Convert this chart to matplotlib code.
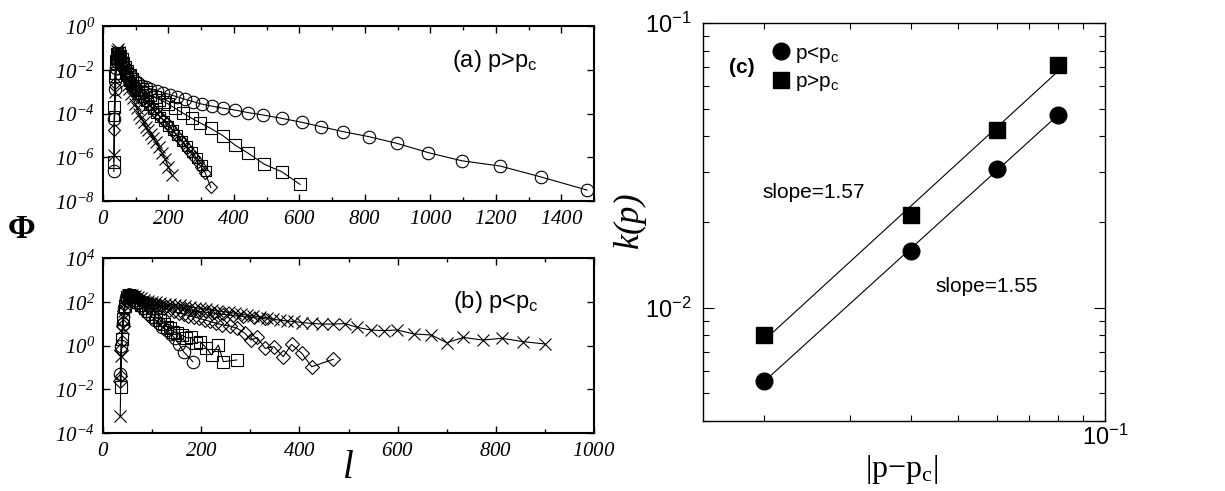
import numpy as np
import matplotlib
matplotlib.use("Agg")
import matplotlib.pyplot as plt
from matplotlib import ticker
from matplotlib.lines import Line2D

plt.rcParams['font.family'] = ['Liberation Sans', 'DejaVu Sans']
plt.rcParams['mathtext.fontset'] = 'custom'
plt.rcParams['mathtext.rm'] = 'Liberation Serif:italic'
plt.rcParams['mathtext.it'] = 'Liberation Serif:italic'
plt.rcParams['mathtext.cal'] = 'Liberation Serif'
plt.rcParams['mathtext.sf'] = 'Liberation Sans'
plt.rcParams['mathtext.bf'] = 'Liberation Sans:bold'

# ---- panel (a): p > pc, log10(Phi) vs l ----
a_circ_l = [33, 35, 38, 41, 44, 48, 52, 57, 62, 68, 74, 81, 89, 98, 108, 119, 131, 144,
            164, 184, 205, 225, 251, 276, 302, 332, 368, 403, 444, 490, 546, 607, 666,
            734, 813, 897, 994, 1096, 1213, 1338, 1479]
a_circ_v = [-6.65, -4.25, -2.9, -1.9, -1.45, -1.35, -1.45, -1.6, -1.75, -1.9, -2.05, -2.2,
            -2.35, -2.5, -2.62, -2.72, -2.8, -2.87, -2.96, -3.05, -3.14, -3.23, -3.35,
            -3.46, -3.57, -3.66, -3.76, -3.84, -3.96, -4.07, -4.22, -4.40, -4.60, -4.83,
            -5.06, -5.36, -5.79, -6.16, -6.40, -6.90, -7.50]

a_sq_l = [33, 35, 38, 41, 44, 48, 52, 57, 62, 68, 74, 81, 89, 98, 108, 119, 131, 144, 158,
          172, 186, 200, 220, 245, 271, 296, 329, 366, 403, 444, 493, 546, 602]
a_sq_v = [-6.2, -3.7, -2.3, -1.6, -1.3, -1.25, -1.35, -1.5, -1.68, -1.87, -2.05, -2.23,
          -2.42, -2.6, -2.75, -2.9, -3.03, -3.15, -3.26, -3.36, -3.46, -3.57, -3.76, -3.99,
          -4.22, -4.42, -4.68, -5.01, -5.44, -5.82, -6.32, -6.66, -7.24]

a_sq2_l = [35, 37, 40, 43, 47, 51, 56, 61, 67, 73, 80, 87, 95, 103, 112, 121, 131, 141,
           152, 163, 175, 187, 200, 213, 227, 241, 256, 271, 287, 303, 315]
a_sq2_v = [-4.1, -2.2, -1.5, -1.25, -1.2, -1.35, -1.6, -1.85, -2.1, -2.3, -2.5, -2.65,
           -2.8, -2.95, -3.1, -3.25, -3.42, -3.6, -3.78, -3.96, -4.15, -4.34, -4.55, -4.76,
           -5.0, -5.24, -5.5, -5.77, -6.05, -6.35, -6.62]

a_dia_l = [34, 36, 39, 42, 45, 49, 53, 58, 63, 68, 74, 80, 86, 93, 100, 107, 115, 123, 131,
           139, 148, 157, 166, 175, 184, 194, 204, 214, 224, 234, 245, 256, 267, 278, 289,
           300, 312, 329]
a_dia_v = [-4.75, -2.6, -1.7, -1.35, -1.25, -1.35, -1.55, -1.8, -2.0, -2.2, -2.4, -2.55,
           -2.7, -2.85, -2.98, -3.1, -3.23, -3.36, -3.48, -3.6, -3.74, -3.88, -4.02, -4.16,
           -4.3, -4.45, -4.62, -4.8, -4.98, -5.17, -5.36, -5.57, -5.78, -6.0, -6.22, -6.45,
           -6.7, -7.38]

a_x_l = [34, 36, 39, 42, 45, 48, 52, 56, 60, 65, 70, 75, 80, 86, 92, 98, 104, 110, 117, 124,
         131, 138, 146, 154, 162, 171, 180, 190, 200, 210]
a_x_v = [-5.9, -3.0, -1.7, -1.15, -1.05, -1.2, -1.45, -1.7, -1.95, -2.2, -2.55, -2.7, -2.9,
         -3.1, -3.3, -3.55, -3.75, -4.0, -4.2, -4.4, -4.6, -4.75, -4.95, -5.1, -5.3, -5.55,
         -5.8, -6.1, -6.45, -6.8]

# ---- panel (b): p < pc ----
b_circ_l = [35, 37, 40, 43, 47, 51, 55, 60, 65, 70, 76, 82, 88, 94, 99, 106, 113, 121, 130,
            138, 147, 155, 164, 183]
b_circ_v = [-1.3, 0.0, 1.0, 1.7, 2.15, 2.3, 2.3, 2.2, 2.1, 1.95, 1.85, 1.7, 1.57, 1.45, 1.32,
            1.18, 1.01, 0.85, 0.71, 0.52, 0.33, 0.05, -0.28, -0.74]

b_sq_l = [36, 38, 41, 44, 48, 52, 56, 61, 66, 72, 78, 85, 92, 100, 108, 116, 124, 130, 137,
          143, 151, 160, 170, 180, 190, 198, 210, 221, 235, 245, 272]
b_sq_v = [-1.88, 0.3, 1.2, 1.8, 2.2, 2.3, 2.28, 2.2, 2.1, 2.0, 1.85, 1.72, 1.6, 1.45, 1.3,
          1.17, 1.0, 0.86, 0.8, 0.63, 0.55, 0.48, 0.35, 0.37, 0.1, 0.17, -0.1, -0.43, 0.02,
          -0.74, -0.66]

b_dia_l = [35, 37, 40, 43, 47, 51, 55, 60, 65, 71, 77, 84, 91, 99, 107, 116, 125, 134, 144,
           154, 164, 174, 185, 196, 207, 218, 230, 242, 259, 273, 289, 301, 314, 330, 348,
           367, 384, 405, 425, 469]
b_dia_v = [-1.6, -0.2, 0.9, 1.6, 2.1, 2.3, 2.32, 2.28, 2.22, 2.15, 2.08, 2.0, 1.95, 1.9,
           1.83, 1.76, 1.7, 1.63, 1.56, 1.5, 1.43, 1.37, 1.3, 1.24, 1.17, 1.1, 1.02, 0.95,
           0.89, 0.79, 0.56, 0.25, 0.37, -0.13, -0.05, -0.51, 0.05, -0.36, -0.97, -0.63]

b_dia2_l = [36, 38, 41, 45, 49, 53, 58, 63, 69, 75, 82, 90, 98, 107, 117, 128, 140, 152, 165,
            179, 194, 210, 227, 245, 264, 285, 307, 330]
b_dia2_v = [-1.4, 0.2, 1.1, 1.9, 2.25, 2.3, 2.27, 2.22, 2.15, 2.08, 2.02, 1.97, 1.92, 1.88,
            1.84, 1.8, 1.76, 1.72, 1.67, 1.62, 1.57, 1.52, 1.47, 1.42, 1.37, 1.32, 1.27, 1.22]

b_x_l = [35, 37, 40, 43, 47, 51, 55, 60, 65, 71, 77, 84, 91, 99, 107, 116, 126, 136, 146,
         157, 167, 177, 188, 198, 210, 221, 233, 245, 257, 269, 281, 293, 306, 320, 333, 347,
         360, 374, 389, 405, 425, 447, 469, 493, 518, 545, 573, 599, 633, 669, 700, 734,
         773, 812, 855, 900]
b_x_v = [-3.22, -0.5, 0.8, 1.6, 2.1, 2.3, 2.33, 2.3, 2.25, 2.2, 2.15, 2.1, 2.05, 2.0, 1.97,
         1.94, 1.9, 1.88, 1.86, 1.84, 1.8, 1.76, 1.72, 1.7, 1.66, 1.62, 1.58, 1.55, 1.51,
         1.47, 1.43, 1.39, 1.35, 1.32, 1.26, 1.2, 1.16, 1.12, 1.1, 1.05, 1.01, 0.98, 0.98,
         1.0, 0.83, 0.71, 0.68, 0.71, 0.53, 0.48, 0.13, 0.37, 0.25, 0.33, 0.18, 0.07]

# ---- panel (c): k(p) vs |p - pc| ----
dp = [0.02, 0.04, 0.06, 0.08]
k_below = [0.00554, 0.01584, 0.0306, 0.0475]
k_above = [0.0080, 0.0211, 0.0421, 0.0713]


def draw_series(ax, l, v, marker, ms):
    ax.plot(l, 10.0 ** np.array(v), color='black', lw=0.8, marker=marker, ms=ms,
            mfc='none', mec='black', mew=0.8)


def sci_it(val, pos):
    return r'$10^{%d}$' % int(round(np.log10(val)))


def sci_sf(val, pos):
    return r'$\mathsf{10^{%d}}$' % int(round(np.log10(val)))


def style_left(ax, xmax, ylo, yhi):
    ax.set_yscale('log')
    ax.set_xlim(0, xmax)
    ax.set_ylim(10.0 ** ylo, 10.0 ** yhi)
    ax.xaxis.set_major_locator(ticker.MultipleLocator(200))
    ax.xaxis.set_minor_locator(ticker.MultipleLocator(100))
    ax.yaxis.set_major_locator(ticker.FixedLocator(10.0 ** np.arange(ylo, yhi + 1, 2)))
    ax.yaxis.set_minor_locator(ticker.NullLocator())
    ax.yaxis.set_major_formatter(ticker.FuncFormatter(sci_it))
    ax.xaxis.set_major_formatter(ticker.FuncFormatter(lambda v, p: r'$%d$' % v))
    ax.tick_params(which='both', direction='in', top=True, right=True, width=1.0,
                   labelsize=15, pad=6)
    ax.tick_params(which='major', length=5)
    ax.tick_params(which='minor', length=3)
    for s in ax.spines.values():
        s.set_linewidth(1.5)


fig = plt.figure(figsize=(12.25, 4.91), dpi=100)

ax_a = fig.add_axes([0.0841, 0.5906, 0.4008, 0.3564])
draw_series(ax_a, a_circ_l, a_circ_v, 'o', 9)
draw_series(ax_a, a_sq_l, a_sq_v, 's', 8)
draw_series(ax_a, a_sq2_l, a_sq2_v, 's', 6.5)
draw_series(ax_a, a_dia_l, a_dia_v, 'D', 6.5)
draw_series(ax_a, a_x_l, a_x_v, 'x', 8)
style_left(ax_a, 1500, -8, 0)
ax_a.text(0.711, 0.80, r'(a) p>p$_\mathsf{c}$', transform=ax_a.transAxes,
          fontsize=17, va='center', ha='left')

ax_b = fig.add_axes([0.0841, 0.1181, 0.4008, 0.3564])
draw_series(ax_b, b_circ_l, b_circ_v, 'o', 9)
draw_series(ax_b, b_sq_l, b_sq_v, 's', 8)
draw_series(ax_b, b_dia2_l, b_dia2_v, 'D', 6.5)
draw_series(ax_b, b_dia_l, b_dia_v, 'D', 7.5)
draw_series(ax_b, b_x_l, b_x_v, 'x', 8)
style_left(ax_b, 1000, -4, 4)
ax_b.text(0.713, 0.749, r'(b) p<p$_\mathsf{c}$', transform=ax_b.transAxes,
          fontsize=17, va='center', ha='left')

fig.text(0.018, 0.532, 'Φ', fontsize=24, ha='center', va='center',
         family='Liberation Serif', fontweight='bold')
fig.text(0.284, 0.045, 'l', fontsize=28, ha='center', va='center',
         family='Liberation Serif', style='italic')

ax_c = fig.add_axes([0.5739, 0.1426, 0.3282, 0.8106])
ax_c.set_xscale('log')
ax_c.set_yscale('log')
ax_c.set_xlim(0.015, 0.1)
ax_c.set_ylim(0.004, 0.1)
logx = np.log10(dp)
for k, mk, ms in [(k_below, 'o', 12), (k_above, 's', 11)]:
    slope, icpt = np.polyfit(logx, np.log10(k), 1)
    ax_c.plot(dp, 10.0 ** (icpt + slope * logx), color='black', lw=0.8)
    ax_c.plot(dp, k, ls='none', marker=mk, ms=ms, color='black')
ax_c.xaxis.set_major_formatter(ticker.FuncFormatter(sci_sf))
ax_c.yaxis.set_major_formatter(ticker.FuncFormatter(sci_sf))
ax_c.xaxis.set_minor_formatter(ticker.NullFormatter())
ax_c.yaxis.set_minor_formatter(ticker.NullFormatter())
ax_c.tick_params(which='both', direction='in', top=True, right=True, width=0.8,
                 labelsize=17)
ax_c.tick_params(which='major', length=8)
ax_c.tick_params(axis='y', which='major', pad=8)
ax_c.tick_params(axis='x', which='major', pad=3)
ax_c.tick_params(which='minor', length=4)
for s in ax_c.spines.values():
    s.set_linewidth(1.0)

fig.text(0.514, 0.548, r'$k(p)$', fontsize=25, rotation=90, ha='center', va='center')
fig.text(0.736, 0.043, r'|p−p$_\mathcal{c}$|', fontsize=23, ha='center', va='center',
         family='Liberation Serif')

ax_c.text(0.097, 0.889, '(c)', transform=ax_c.transAxes, fontsize=15,
          fontweight='bold', ha='center', va='center')
handles = [Line2D([], [], ls='none', marker='o', ms=12, color='black'),
           Line2D([], [], ls='none', marker='s', ms=11, color='black')]
ax_c.legend(handles, [r'p<p$_\mathsf{c}$', r'p>p$_\mathsf{c}$'], loc='upper left',
            bbox_to_anchor=(0.12, 0.985), frameon=False, fontsize=15,
            handletextpad=-0.1, labelspacing=0.35, borderpad=0.2, handlelength=1.5)
ax_c.text(0.149, 0.575, 'slope=1.57', transform=ax_c.transAxes, fontsize=15,
          ha='left', va='center')
ax_c.text(0.577, 0.337, 'slope=1.55', transform=ax_c.transAxes, fontsize=15,
          ha='left', va='center')

fig.savefig('out.png', dpi=100)
